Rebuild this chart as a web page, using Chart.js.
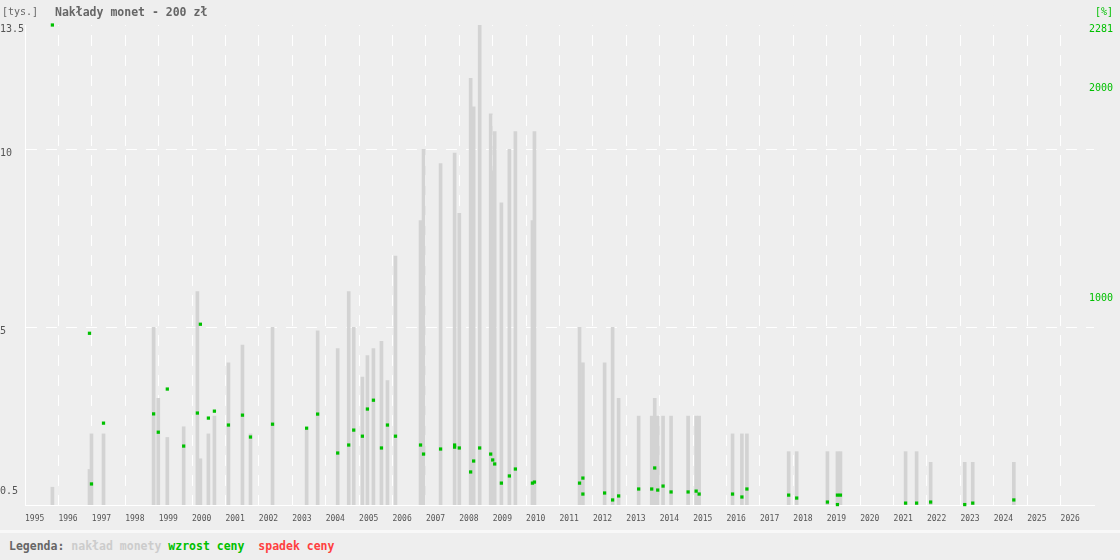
<!DOCTYPE html>
<html lang="pl">
<head>
<meta charset="UTF-8">
<title>Nakłady monet - 200 zł</title>
<script src="https://cdn.jsdelivr.net/npm/chart.js"></script>
<style>
    body { margin: 0; background: #eeeeee; font-family: "DejaVu Sans Mono", monospace; }
    #wrap { position: relative; width: 1120px; height: 530px; }
    .top { position: absolute; top: 5px; line-height: 14px; white-space: pre; }
    #unitL { left: 2px; font-size: 10px; color: #666; }
    #title { left: 55px; font-size: 11.5px; font-weight: bold; color: #666; }
    #unitR { left: 1095px; font-size: 10px; color: #00c000; }
    #legend { width: 1120px; height: 27px; border-top: 3px solid #f8f8f8; line-height: 27px;
              font-size: 11.5px; font-weight: bold; white-space: pre; padding-left: 9px; box-sizing: border-box; }
</style>
</head>
<body>
<div id="wrap">
    <canvas id="chart" width="1120" height="530"></canvas>
    <div class="top" id="unitL">[tys.]</div>
    <div class="top" id="title">Nakłady monet - 200 zł</div>
    <div class="top" id="unitR">[%]</div>
</div>
<div id="legend"><span style="color:#666">Legenda:</span> <span style="color:#cccccc">nakład monety</span> <span style="color:#00c000">wzrost ceny</span>  <span style="color:#ff4040">spadek ceny</span></div>

<script>
    // tick labels
    const years = [1995, 1996, 1997, 1998, 1999, 2000, 2001, 2002, 2003, 2004, 2005, 2006, 2007, 2008, 2009, 2010,
                   2011, 2012, 2013, 2014, 2015, 2016, 2017, 2018, 2019, 2020, 2021, 2022, 2023, 2024, 2025, 2026];
    const leftTicks = [0.5, 5, 10, 13.5];
    const rightTicks = [1000, 2000, 2281];

    // mintage per coin issue (thousands), by issue date (fractional year)
    const issueDates = [1995.82, 1996.93, 1996.99, 1997.35, 1998.85, 1998.99, 1999.26, 1999.75, 2000.16, 2000.25,
                        2000.49, 2000.67, 2001.09, 2001.51, 2001.75, 2002.41, 2003.43, 2003.76, 2004.36, 2004.69,
                        2004.84, 2005.10, 2005.25, 2005.43, 2005.67, 2005.85, 2006.09, 2006.84, 2006.93, 2007.44,
                        2007.86, 2008.00, 2008.34, 2008.43, 2008.61, 2008.94, 2009.00, 2009.06, 2009.26, 2009.50,
                        2009.68, 2010.19, 2010.25, 2011.60, 2011.70, 2012.35, 2012.59, 2012.77, 2013.37, 2013.76,
                        2013.85, 2013.94, 2014.10, 2014.34, 2014.85, 2015.09, 2015.18, 2016.18, 2016.46, 2016.61,
                        2017.86, 2018.10, 2019.02, 2019.32, 2019.41, 2021.36, 2021.69, 2022.11, 2023.13, 2023.37,
                        2024.60];
    const mintage = [0.5, 1.0, 2.0, 2.0, 5.0, 3.0, 1.9, 2.2, 6.0, 1.3,
                     2.0, 2.5, 4.0, 4.5, 2.0, 5.0, 2.1, 4.9, 4.4, 6.0,
                     5.0, 3.6, 4.2, 4.4, 4.6, 3.5, 7.0, 8.0, 10.0, 9.6,
                     9.9, 8.2, 12.0, 11.2, 13.5, 11.0, 9.4, 10.5, 8.5, 10.0,
                     10.5, 8.0, 10.5, 5.0, 4.0, 4.0, 5.0, 3.0, 2.5, 2.5,
                     3.0, 2.5, 2.5, 2.5, 2.5, 2.5, 2.5, 2.0, 2.0, 2.0,
                     1.5, 1.5, 1.5, 1.5, 1.5, 1.5, 1.5, 1.2, 1.2, 1.2,
                     1.2];

    // price growth (%)
    const growthDates = [1995.82, 1996.93, 1996.99, 1997.35, 1998.85, 1998.99, 1999.26, 1999.75, 2000.16, 2000.25,
                         2000.49, 2000.67, 2001.09, 2001.51, 2001.75, 2002.41, 2003.43, 2003.76, 2004.36, 2004.69,
                         2004.84, 2005.10, 2005.25, 2005.43, 2005.67, 2005.85, 2006.09, 2006.84, 2006.93, 2007.44,
                         2007.86, 2007.86, 2008.00, 2008.34, 2008.43, 2008.61, 2008.94, 2009.00, 2009.06, 2009.26,
                         2009.50, 2009.68, 2010.19, 2010.25, 2011.60, 2011.70, 2011.70, 2012.35, 2012.59, 2012.77,
                         2013.37, 2013.76, 2013.85, 2013.94, 2014.10, 2014.34, 2014.85, 2015.09, 2015.18, 2016.18,
                         2016.46, 2016.61, 2017.86, 2018.10, 2019.02, 2019.32, 2019.32, 2019.41, 2021.36, 2021.69,
                         2022.11, 2023.13, 2023.37, 2024.60];
    const growth = [2281, 816, 100, 389, 433, 346, 551, 280, 437, 859,
                    413, 446, 380, 427, 323, 384, 365, 432, 247, 285,
                    356, 327, 456, 498, 271, 380, 327, 285, 242, 266,
                    285, 275, 271, 157, 209, 271, 242, 214, 195, 104,
                    138, 171, 104, 109, 104, 128, 52, 57, 24, 43,
                    76, 76, 176, 71, 90, 62, 62, 66, 52, 52,
                    38, 76, 47, 33, 14, 47, 2, 47, 9, 9,
                    14, 2, 9, 24];

    // price drops (%) - none for this coin
    const dropDates = [];
    const drop = [];

    Chart.defaults.font.family = '"DejaVu Sans Mono", monospace';
    Chart.defaults.animation = false;

    const ctx = document.getElementById('chart').getContext('2d');
    new Chart(ctx, {
        type: 'bar',
        data: {
            datasets: [{
                type: 'scatter',
                label: 'wzrost ceny',
                yAxisID: 'y2',
                data: growthDates.map((d, i) => ({ x: d, y: growth[i] })),
                pointStyle: 'rect',
                pointRadius: 2.3,
                pointBorderWidth: 0,
                backgroundColor: '#00c000',
                clip: false
            }, {
                type: 'scatter',
                label: 'spadek ceny',
                yAxisID: 'y2',
                data: dropDates.map((d, i) => ({ x: d, y: drop[i] })),
                pointStyle: 'rect',
                pointRadius: 2.3,
                pointBorderWidth: 0,
                backgroundColor: '#ff4040',
                clip: false
            }, {
                label: 'nakład monety',
                yAxisID: 'y',
                data: issueDates.map((d, i) => ({ x: d, y: mintage[i] })),
                backgroundColor: '#d3d3d3',
                barThickness: 3,
                grouped: false,
                order: 2
            }]
        },
        options: {
            responsive: false,
            layout: { padding: { top: 25, right: 0, left: 0, bottom: 0 } },
            plugins: { legend: { display: false }, tooltip: { enabled: false } },
            scales: {
                x: {
                    type: 'linear',
                    min: 1995,
                    max: 2027,
                    offset: false,
                    afterBuildTicks: s => { s.ticks = years.map(v => ({ value: v })); },
                    afterFit: s => { s.height = 25; },
                    grid: { color: '#ffffff', drawTicks: false, offset: false },
                    border: { color: '#ffffff', width: 1, dash: [11, 9], dashOffset: 10 },
                    ticks: { color: '#555', font: { size: 8 }, align: 'start', padding: 9,
                             maxRotation: 0, autoSkip: false, callback: v => String(v) }
                },
                y: {
                    position: 'left',
                    min: 0,
                    max: 13.5,
                    afterBuildTicks: s => { s.ticks = leftTicks.map(v => ({ value: v })); },
                    afterFit: s => { s.width = 25; },
                    grid: {
                        color: c => (c.tick && (c.tick.value === 5 || c.tick.value === 10)) ? '#ffffff' : 'rgba(0,0,0,0)',
                        drawTicks: false
                    },
                    border: { color: '#ffffff', width: 1, dash: [11, 9] },
                    ticks: { color: '#555', font: { size: 10 }, padding: 0, crossAlign: 'far',
                             labelOffset: 4, callback: v => String(v) }
                },
                y2: {
                    position: 'right',
                    min: 0,
                    max: 2281,
                    afterBuildTicks: s => { s.ticks = rightTicks.map(v => ({ value: v })); },
                    afterFit: s => { s.width = 26; },
                    grid: { display: false, drawTicks: false },
                    border: { display: false },
                    ticks: { color: '#00c000', font: { size: 10 }, mirror: true, padding: 19, crossAlign: 'near',
                             labelOffset: 4, callback: v => String(v) }
                }
            }
        }
    });
</script>
</body>
</html>
